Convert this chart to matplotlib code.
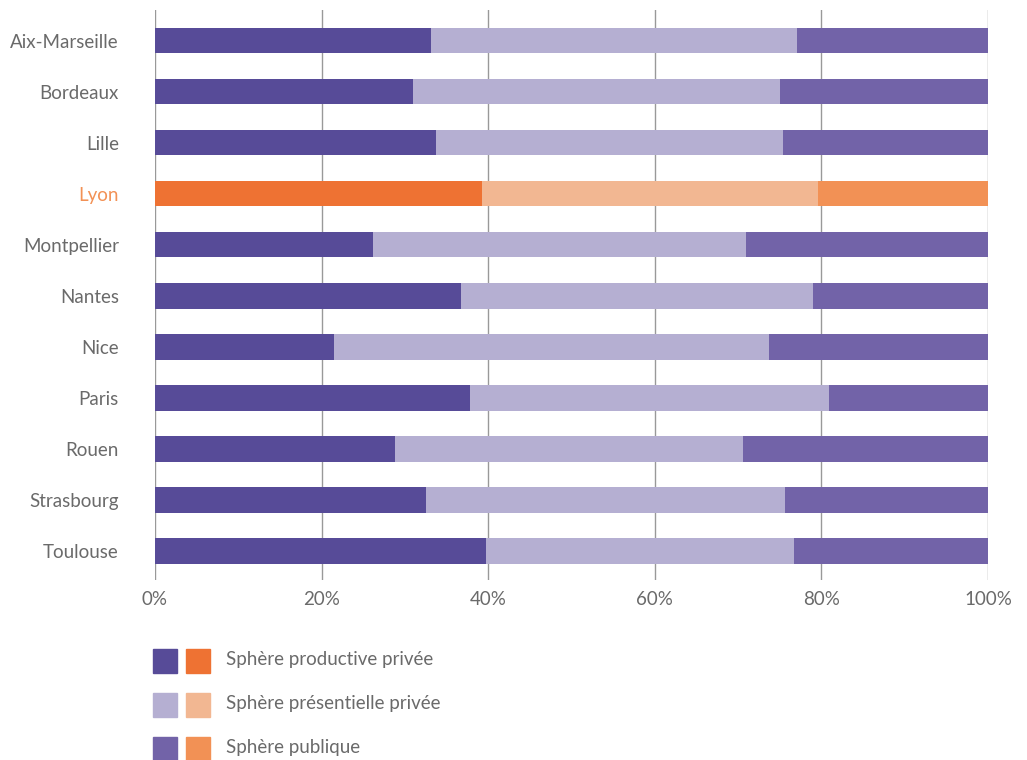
import matplotlib
matplotlib.use("Agg")
import matplotlib.pyplot as plt
from matplotlib.patches import Rectangle
from matplotlib.transforms import ScaledTranslation

cities = ["Aix-Marseille", "Bordeaux", "Lille", "Lyon", "Montpellier", "Nantes",
          "Nice", "Paris", "Rouen", "Strasbourg", "Toulouse"]
productive = [33.1, 31.0, 33.7, 39.3, 26.2, 36.7, 21.5, 37.8, 28.8, 32.5, 39.7]
presentielle = [44.0, 44.0, 41.7, 40.3, 44.7, 42.3, 52.2, 43.1, 41.8, 43.1, 37.0]
publique = [round(100 - a - b, 1) for a, b in zip(productive, presentielle)]
ticks = [0, 20, 40, 60, 80, 100]
tick_labels = ["0%", "20%", "40%", "60%", "80%", "100%"]
legend_labels = ["Sphère productive privée", "Sphère présentielle privée", "Sphère publique"]
highlight = "Lyon"

purple = ["#574B98", "#B5AFD2", "#7263A8"]
orange = ["#EE7233", "#F2B792", "#F29155"]
text_gray = "#6a6a6a"

plt.rcParams['font.family'] = ['Lato', 'DejaVu Sans']

fig = plt.figure(figsize=(10.27, 7.6), dpi=100)
ax = fig.add_axes([155/1027, 1-580/760, (988-155)/1027, (580-10)/760])

for i, c in enumerate(cities):
    cols = orange if c == highlight else purple
    left = 0
    for v, col in zip([productive[i], presentielle[i], publique[i]], cols):
        ax.barh(i, v, left=left, height=0.5, color=col, zorder=3, linewidth=0)
        left += v

ax.set_xlim(0, 100)
ax.set_ylim(10.57, -0.6)
ax.set_xticks(ticks)
ax.set_xticklabels(tick_labels)
ax.set_yticks(range(len(cities)))
ax.set_yticklabels(cities)
shift = ScaledTranslation(0, 3/100, fig.dpi_scale_trans)
for lbl in ax.get_yticklabels():
    lbl.set_transform(lbl.get_transform() + shift)
    if lbl.get_text() == highlight:
        lbl.set_color(orange[2])
    else:
        lbl.set_color(text_gray)
for lbl in ax.get_xticklabels():
    lbl.set_color(text_gray)
ax.tick_params(axis='y', length=0, pad=26, labelsize=13.5)
ax.tick_params(axis='x', length=0, pad=8, labelsize=13.5)
ax.grid(axis='x', color='#999999', linewidth=1, zorder=0)
for s in ax.spines.values():
    s.set_visible(False)

rows_y = [661, 705, 749]
for k, lab in enumerate(legend_labels):
    yc = rows_y[k]
    for x0, col in [(153, purple[k]), (186, orange[k])]:
        fig.patches.append(Rectangle((x0/1027, 1-(yc+12)/760), 24/1027, 24/760,
                                     transform=fig.transFigure, color=col))
    fig.text(226/1027, 1-(yc-1)/760, lab, fontsize=13.5, color=text_gray, va='center', ha='left')

fig.savefig("out.png", dpi=100)
